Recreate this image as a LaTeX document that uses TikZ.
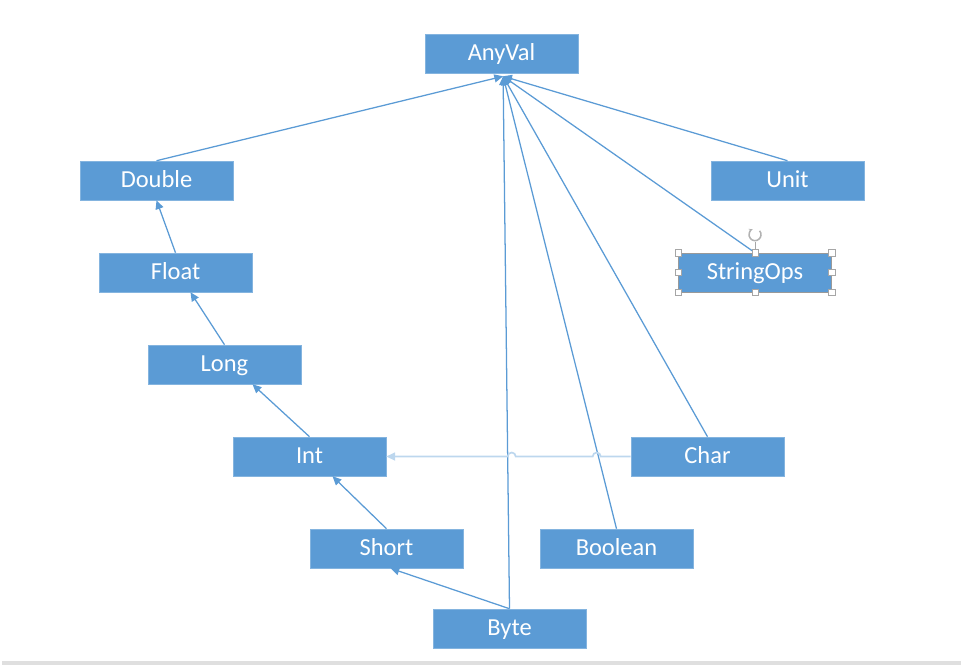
\documentclass[tikz,border=0pt]{standalone}
\usepackage{fontspec}
\setmainfont{Carlito}
\usetikzlibrary{arrows.meta,positioning}
\definecolor{boxblu}{HTML}{5B9BD5}
\definecolor{linea}{HTML}{5B9BD5}
\definecolor{lineachiara}{HTML}{BDD7EE}

\begin{document}
\begin{tikzpicture}[x=0.025cm, y=-0.025cm]
    % Stili
    \tikzstyle{tipo}=[rectangle, minimum width=3.825cm, minimum height=0.975cm, inner sep=0pt, fill=boxblu, draw=boxblu!75!white, text=white, font=\fontsize{17.4}{20}\selectfont, text height=1.02em, text depth=0em]
    \tikzstyle{freccia}=[-{Triangle[length=0.22cm, width=0.2cm]}, draw=linea, line width=0.9pt]
    \tikzstyle{maniglia}=[rectangle, draw=gray!70, fill=white, minimum size=0.16cm, inner sep=0pt]

    \useasboundingbox (0,0) rectangle (961,665);

    % Tipi
    \node (anyval) [tipo] at (501.5,53.5) {AnyVal};
    \node (double) [tipo] at (156.5,180.5) {Double};
    \node (unit) [tipo] at (787.5,180.5) {Unit};
    \node (float) [tipo] at (175.5,272.5) {Float};
    \node (stringops) [tipo, draw=gray!80] at (755,272.5) {StringOps};
    \node (long) [tipo] at (224.5,364.5) {Long};
    \node (int) [tipo] at (309.5,456.5) {Int};
    \node (char) [tipo] at (707.5,456.5) {Char};
    \node (short) [tipo] at (386.5,548.5) {Short};
    \node (boolean) [tipo] at (616.5,548.5) {Boolean};
    \node (byte) [tipo] at (509.5,628.5) {Byte};

    \coordinate (radice) at ([xshift=0.04cm, yshift=-0.075cm]anyval.south);

    % Collegamenti
    \draw [freccia] (double.north) -- (radice);
    \draw [freccia] (unit.north) -- (radice);
    \draw [freccia] (stringops.north) -- (radice);
    \draw [freccia] (char.north) -- (radice);
    \draw [freccia] (boolean.north) -- (radice);
    \draw [freccia] (byte.north) -- (radice);
    \draw [freccia] (float.north) -- (double.south);
    \draw [freccia] (long.north) -- ([xshift=0.375cm]float.south);
    \draw [freccia] (int.north) -- ([xshift=0.7cm]long.south);
    \draw [freccia] (short.north) -- ([xshift=0.575cm]int.south);
    \draw [freccia] (byte.north) -- ([xshift=0.1cm]short.south);
    \draw [freccia, draw=lineachiara, line width=1.2pt, -{Triangle[length=0.22cm, width=0.2cm, fill=lineachiara]}] (char.west) -- ++(-30,0) arc[start angle=0, end angle=-180, radius=4] -- ++(-77,0) arc[start angle=0, end angle=-180, radius=4] -- (int.east);

    % Selezione
    \foreach \a in {north west, north, north east, west, east, south west, south, south east}
        \node [maniglia] at (stringops.\a) {};
    \draw [gray!70, line width=0.6pt] (stringops.north) ++(0,-3) -- ++(0,-8) coordinate (perno);
    \draw [gray!60, line width=1.1pt, -{Stealth[length=3pt]}] (perno) ++(4.6,-10.9) arc[start angle=-40, end angle=250, radius=6];

    % Bordo
    \fill [gray!25] (2,661) rectangle (961,665);
\end{tikzpicture}
\end{document}
